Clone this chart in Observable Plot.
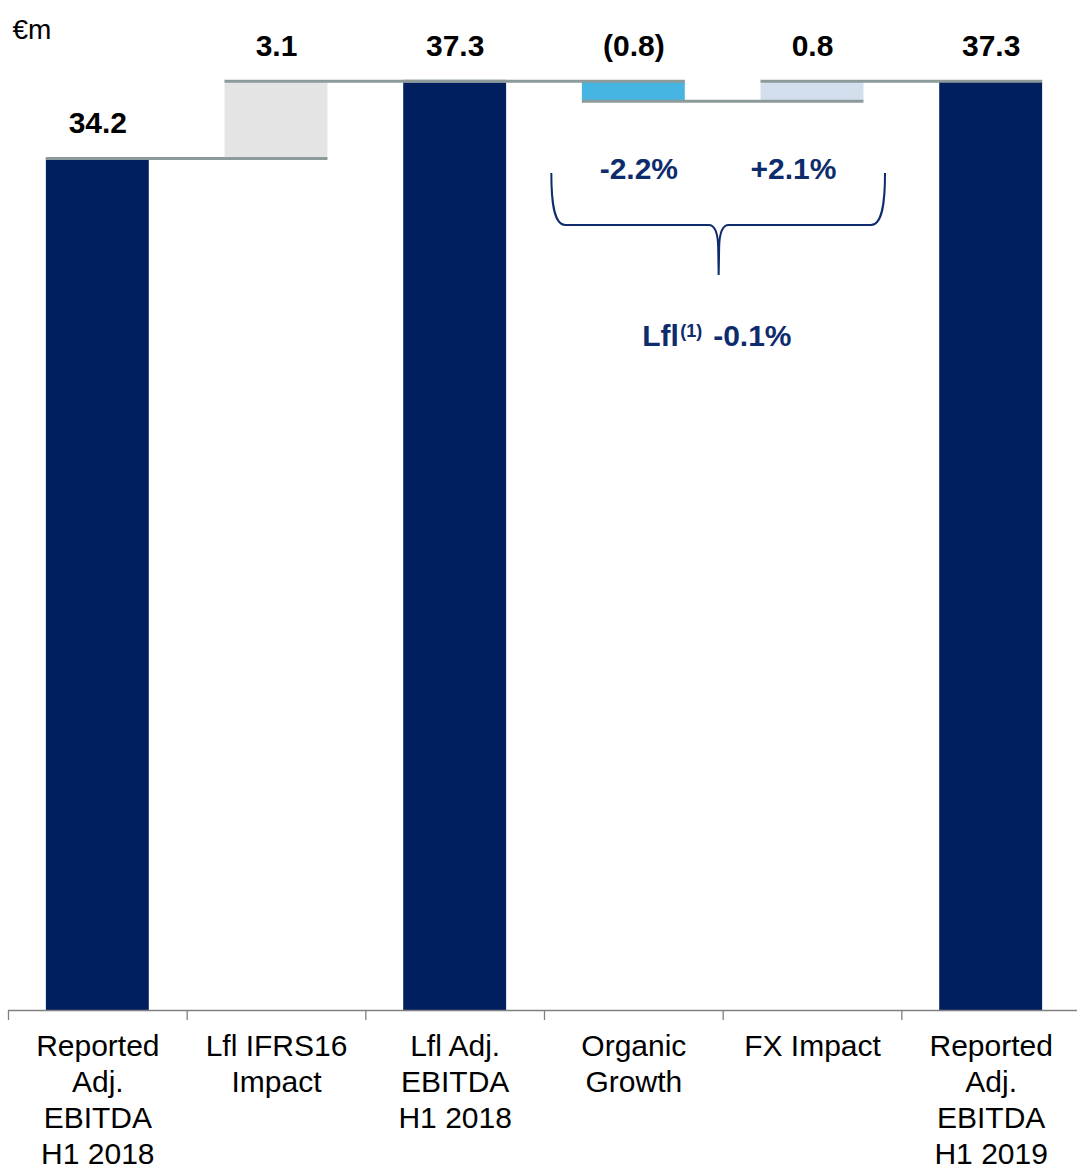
<!DOCTYPE html>
<html>
<head>
<meta charset="utf-8">
<script src="https://cdn.jsdelivr.net/npm/d3@7"></script>
<script src="https://cdn.jsdelivr.net/npm/@observablehq/plot@0.6"></script>
<style>
  html, body { margin: 0; padding: 0; background: #fff; }
  svg { display: block; }
</style>
</head>
<body>
<div id="chart"></div>
<script>
// EBITDA bridge, H1 2018 to H1 2019 (€m)
const categories = [
  "Reported\nAdj.\nEBITDA\nH1 2018",
  "Lfl IFRS16\nImpact",
  "Lfl Adj.\nEBITDA\nH1 2018",
  "Organic\nGrowth",
  "FX Impact",
  "Reported\nAdj.\nEBITDA\nH1 2019"
];
const values = [34.2, 3.1, 37.3, -0.8, 0.8, 37.3];
const isTotal = [true, false, true, false, false, true];
const barColors = ["#011e5f", "#e4e4e4", "#011e5f", "#47b5e1", "#d3dfec", "#011e5f"];
const growthLabels = ["-2.2%", "+2.1%"];
const lflParts = ["Lfl", "(1)", "-0.1%"];
const unitLabel = "€m";

const navy = "#0e2b6c";
const halfBar = 0.288;

// running totals for the waterfall
let running = 0;
const rows = categories.map((label, i) => {
  const start = isTotal[i] ? 0 : running;
  const end = isTotal[i] ? values[i] : running + values[i];
  running = end;
  return {i, label, value: values[i], start, end, top: Math.max(start, end), color: barColors[i]};
});

// connector from each bar's level to the next bar
const connectors = rows.slice(0, -1).map(d => ({x1: d.i - halfBar, x2: d.i + 1 + halfBar, y: d.end}));

const fmt = v => v < 0 ? `(${Math.abs(v).toFixed(1)})` : v.toFixed(1);

// curly brace grouping Organic Growth and FX Impact
function brace(index, {x}) {
  const l = x(3) - 82, r = x(4) + 73, m = (x(3) + x(4)) / 2 - 4;
  const t = 173, h = 225, b = 275;
  const d = `M${l},${t} C${l},${h - 25} ${l + 2},${h} ${l + 14},${h} L${m - 10},${h} Q${m - 1},${h} ${m - 0.5},${h + 22} L${m},${b}` +
            ` M${r},${t} C${r},${h - 25} ${r - 2},${h} ${r - 14},${h} L${m + 10},${h} Q${m + 1},${h} ${m + 0.5},${h + 22} L${m},${b}`;
  return d3.create("svg:path")
    .attr("d", d)
    .attr("fill", "none")
    .attr("stroke", navy)
    .attr("stroke-width", 2)
    .node();
}

const chart = Plot.plot({
  width: 1077,
  height: 1171,
  marginTop: 0,
  marginRight: 0,
  marginBottom: 161,
  marginLeft: 0,
  x: {type: "linear", domain: [-0.5, 5.5], range: [8, 1080]},
  y: {domain: [0, 40.54], range: [1010, 0], axis: null},
  style: {fontFamily: "'Liberation Sans', Arial, sans-serif", background: "#fff", overflow: "visible"},
  marks: [
    Plot.rectY(rows, {x1: d => d.i - halfBar, x2: d => d.i + halfBar, y1: "start", y2: "end", fill: "color"}),
    Plot.ruleY(connectors, {x1: "x1", x2: "x2", y: "y", stroke: "#8c9a9a", strokeWidth: 3}),
    Plot.ruleY([0], {x1: -0.5, x2: 5.5, stroke: "#808080", strokeWidth: 1.3}),
    Plot.axisX(d3.range(-0.5, 5, 1), {anchor: "bottom", tickSize: 10, tickFormat: () => "", stroke: "#808080", strokeWidth: 1.3}),
    Plot.text(rows, {x: "i", y: 0, text: "label", lineAnchor: "top", dy: 20, lineHeight: 1.2, fontSize: 30, fill: "#000"}),
    Plot.text(rows, {x: "i", y: "top", text: d => fmt(d.value), lineAnchor: "bottom", dy: -25, fontSize: 30, fontWeight: "bold", fill: "#000"}),
    Plot.text([unitLabel], {frameAnchor: "top-left", textAnchor: "start", lineAnchor: "top", dx: 12, dy: 19, fontSize: 28, fill: "#000"}),
    brace,
    Plot.text([growthLabels[0]], {x: 3, frameAnchor: "top", lineAnchor: "bottom", dx: 5, dy: 178, fontSize: 30, fontWeight: "bold", fill: navy}),
    Plot.text([growthLabels[1]], {x: 4, frameAnchor: "top", lineAnchor: "bottom", dx: -19, dy: 178, fontSize: 30, fontWeight: "bold", fill: navy}),
    Plot.text([lflParts[0]], {x: 3.5, frameAnchor: "top", textAnchor: "start", lineAnchor: "bottom", dx: -81, dy: 345, fontSize: 30, fontWeight: "bold", fill: navy}),
    Plot.text([lflParts[1]], {x: 3.5, frameAnchor: "top", textAnchor: "start", lineAnchor: "bottom", dx: -43, dy: 336, fontSize: 18, fontWeight: "bold", fill: navy}),
    Plot.text([lflParts[2]], {x: 3.5, frameAnchor: "top", textAnchor: "start", lineAnchor: "bottom", dx: -10, dy: 345, fontSize: 30, fontWeight: "bold", fill: navy})
  ]
});

document.getElementById("chart").appendChild(chart);
</script>
</body>
</html>
